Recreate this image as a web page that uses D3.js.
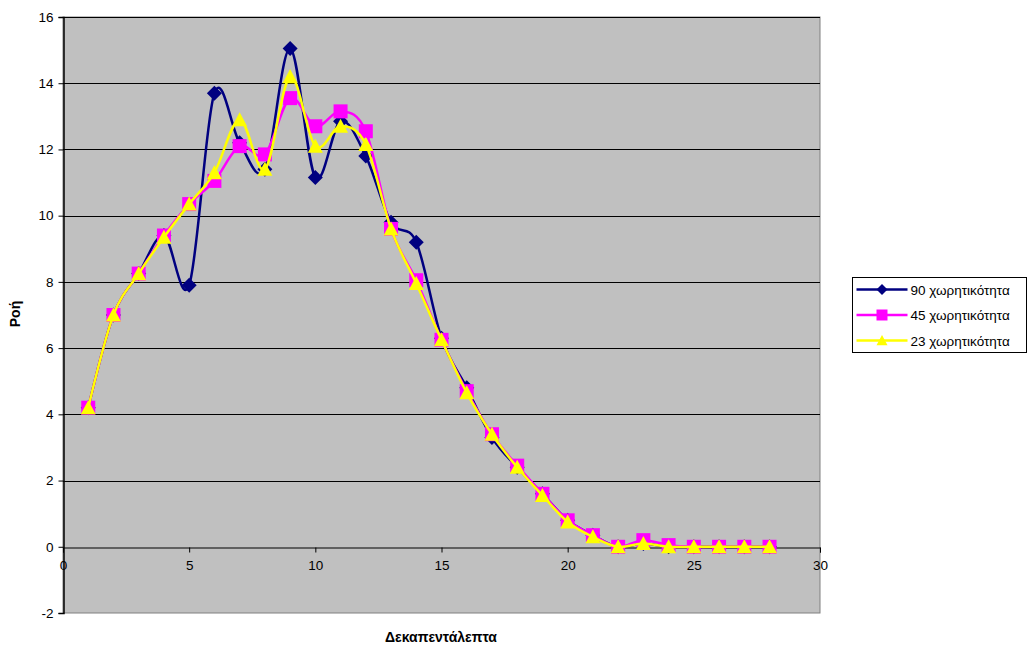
<!DOCTYPE html>
<html>
<head>
<meta charset="utf-8">
<script src="https://cdn.jsdelivr.net/npm/d3@7"></script>
<style>
  html, body { margin: 0; padding: 0; background: #ffffff; }
  svg { display: block; font-family: "Liberation Sans", Arial, sans-serif; }
</style>
</head>
<body>
<svg id="chart" width="1029" height="651"></svg>
<script>
// Quarter-hour index on the x axis
const quarters = d3.range(1, 29);

// Flow per quarter hour for each capacity setting
const flow90 = [4.2, 7.0, 8.25, 9.4, 7.9, 13.7, 12.2, 11.4, 15.05, 11.15, 12.85, 11.8, 9.8, 9.2,
                6.3, 4.8, 3.3, 2.4, 1.6, 0.8, 0.35, 0.0, 0.1, 0.0, 0.0, 0.0, 0.0, 0.0];
const flow45 = [4.2, 7.0, 8.25, 9.4, 10.35, 11.05, 12.1, 11.85, 13.55, 12.7, 13.15, 12.55, 9.6, 8.05,
                6.25, 4.7, 3.4, 2.45, 1.6, 0.8, 0.35, 0.0, 0.2, 0.05, 0.0, 0.0, 0.0, 0.0];
const flow23 = [4.2, 7.0, 8.25, 9.35, 10.35, 11.3, 12.9, 11.4, 14.2, 12.1, 12.7, 12.15, 9.6, 7.95,
                6.25, 4.65, 3.4, 2.4, 1.55, 0.75, 0.3, 0.0, 0.1, 0.0, 0.0, 0.0, 0.0, 0.0];

const seriesNames = ["90 χωρητικότητα", "45 χωρητικότητα", "23 χωρητικότητα"];
const seriesColors = ["#000080", "#FF00FF", "#FFFF00"];
const seriesMarkers = ["diamond", "square", "triangle"];

const xTicks = [0, 5, 10, 15, 20, 25, 30];
const yTicks = [-2, 0, 2, 4, 6, 8, 10, 12, 14, 16];

const xTitle = "Δεκαπεντάλεπτα";
const yTitle = "Ροή";

const series = [flow90, flow45, flow23].map((vals, i) => ({
  name: seriesNames[i],
  color: seriesColors[i],
  marker: seriesMarkers[i],
  points: quarters.map((q, j) => ({ x: q, y: vals[j] }))
}));

// Marker outlines centred on the point, r = half width
function markerPath(type, r) {
  if (type === "diamond") {
    return `M0,${-r}L${r},0L0,${r}L${-r},0Z`;
  }
  if (type === "square") {
    return `M${-r},${-r}H${r}V${r}H${-r}Z`;
  }
  return `M0,${-r}L${r},${r * 0.87}L${-r},${r * 0.87}Z`;
}
const markerSize = { diamond: 7.5, square: 7, triangle: 7.5 };

const svg = d3.select("#chart");
const plot = { left: 63, right: 820, top: 17, bottom: 613 };

const x = d3.scaleLinear().domain([0, 30]).range([plot.left, plot.right]);
const y = d3.scaleLinear().domain([-2, 16]).range([plot.bottom, plot.top]);

// Plot background
svg.append("rect")
  .attr("x", plot.left).attr("y", plot.top)
  .attr("width", plot.right - plot.left).attr("height", plot.bottom - plot.top)
  .attr("fill", "#C0C0C0")
  .attr("stroke", "#808080").attr("stroke-width", 1);

// Horizontal gridlines
svg.append("g")
  .selectAll("line")
  .data(yTicks.filter(t => t !== -2 && t !== 0))
  .join("line")
  .attr("x1", plot.left).attr("x2", plot.right)
  .attr("y1", d => Math.round(y(d)) + 0.5).attr("y2", d => Math.round(y(d)) + 0.5)
  .attr("stroke", "#000").attr("stroke-width", 1);

const tickFont = 13.5;
const plainNumber = d => String(d);

// Y axis
const yAxis = svg.append("g")
  .attr("transform", `translate(${plot.left + 0.5},0)`)
  .call(d3.axisLeft(y).tickValues(yTicks).tickSize(5).tickPadding(5).tickFormat(plainNumber));
yAxis.select(".domain").attr("stroke", "#000").attr("stroke-width", 1.5);
yAxis.selectAll(".tick line").attr("stroke", "#000");
yAxis.selectAll(".tick text").attr("font-size", tickFont).attr("fill", "#000")
  .attr("font-family", "'Liberation Sans', Arial, sans-serif");

// X axis crossing at zero
const xAxis = svg.append("g")
  .attr("transform", `translate(0,${Math.round(y(0)) + 0.5})`)
  .call(d3.axisBottom(x).tickValues(xTicks).tickSize(5).tickPadding(8).tickFormat(plainNumber));
xAxis.select(".domain").attr("stroke", "#000").attr("stroke-width", 1);
xAxis.selectAll(".tick line").attr("stroke", "#000");
xAxis.selectAll(".tick text").attr("font-size", tickFont).attr("fill", "#000")
  .attr("font-family", "'Liberation Sans', Arial, sans-serif");

// Series lines (smoothed) and markers
const line = d3.line()
  .x(d => x(d.x)).y(d => y(d.y))
  .curve(d3.curveCardinal.tension(0));

series.forEach(s => {
  const g = svg.append("g");
  g.append("path")
    .datum(s.points)
    .attr("fill", "none")
    .attr("stroke", s.color)
    .attr("stroke-width", 2.5)
    .attr("d", line);
  g.selectAll("path.mk")
    .data(s.points)
    .join("path")
    .attr("class", "mk")
    .attr("transform", d => `translate(${x(d.x)},${y(d.y)})`)
    .attr("d", markerPath(s.marker, markerSize[s.marker]))
    .attr("fill", s.color);
});

// Axis titles
svg.append("text")
  .attr("x", 441).attr("y", 642)
  .attr("text-anchor", "middle")
  .attr("font-size", 14).attr("font-weight", "bold")
  .text(xTitle);

svg.append("text")
  .attr("transform", "translate(20,314) rotate(-90)")
  .attr("text-anchor", "middle")
  .attr("font-size", 14).attr("font-weight", "bold")
  .text(yTitle);

// Legend
const legend = svg.append("g").attr("transform", "translate(852.5,277.5)");
legend.append("rect")
  .attr("width", 174).attr("height", 75)
  .attr("fill", "#fff").attr("stroke", "#000").attr("stroke-width", 1);

series.forEach((s, i) => {
  const row = legend.append("g").attr("transform", `translate(0,${12 + i * 25.5})`);
  row.append("line")
    .attr("x1", 4).attr("x2", 55).attr("y1", 0).attr("y2", 0)
    .attr("stroke", s.color).attr("stroke-width", 2.5);
  row.append("path")
    .attr("transform", "translate(29.5,0)")
    .attr("d", markerPath(s.marker, 5.5))
    .attr("fill", s.color);
  row.append("text")
    .attr("x", 58).attr("y", 5)
    .attr("font-size", 13.5)
    .text(s.name);
});
</script>
</body>
</html>
